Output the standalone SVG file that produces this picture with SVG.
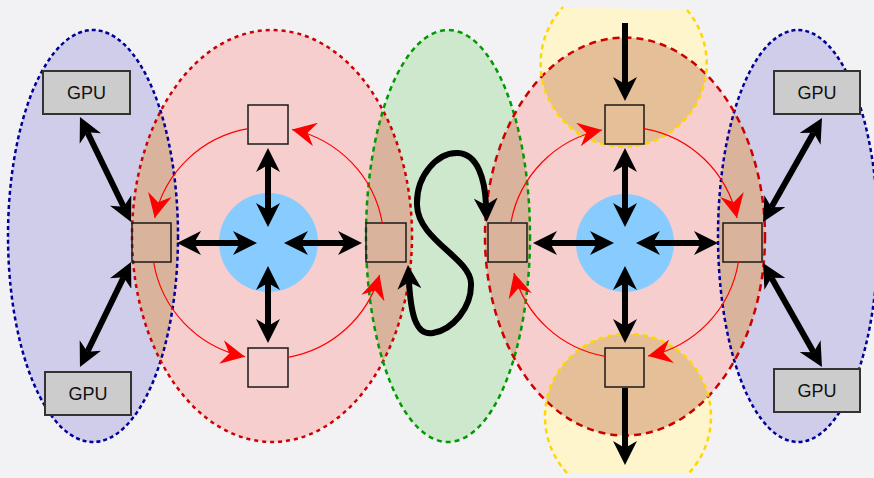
<svg xmlns="http://www.w3.org/2000/svg" width="874" height="478" viewBox="0 0 874 478">
<style>
.sq{fill:none;stroke:#1a1a1a;stroke-width:1.5}
.gpu rect{fill:#cccccc;stroke:#333333;stroke-width:2}
.gpu text{font-family:"Liberation Sans",Arial,sans-serif;font-size:18px;fill:#111111;text-anchor:middle}
.hub{fill:#88ccff}
.blk{fill:none;stroke:#000000;stroke-width:6}
.bi{marker-start:url(#ah);marker-end:url(#ah)}
.one{marker-end:url(#ah)}
.red{fill:none;stroke:#ff0000;stroke-width:1.2;marker-end:url(#rh)}
.lens{fill:#d9b39b}
.lens2{fill:#e5bf97}
.ob{fill:none;stroke:#000099;stroke-width:2.5;stroke-dasharray:4 3}
.or{fill:none;stroke:#cc0000;stroke-width:2.5;stroke-dasharray:4 4}
.or2{fill:none;stroke:#cc0000;stroke-width:2.5;stroke-dasharray:7 5}
.og{fill:none;stroke:#009900;stroke-width:2.5;stroke-dasharray:5 4}
.oy{fill:none;stroke:#ffd700;stroke-width:2.5;stroke-dasharray:5 4}
</style>
<defs>
<marker id="ah" viewBox="0 0 24 24" markerWidth="24" markerHeight="24" refX="7" refY="12" orient="auto-start-reverse" markerUnits="userSpaceOnUse"><path d="M0,0 L24,12 L0,24 L7,12 z" fill="#000000"/></marker>
<marker id="rh" viewBox="0 0 24 24" markerWidth="24" markerHeight="24" refX="24" refY="12" orient="auto" markerUnits="userSpaceOnUse"><path d="M0,0 L24,12 L0,24 L8,12 z" fill="#ff0000"/></marker>
<clipPath id="cRL"><ellipse cx="272" cy="236" rx="140" ry="206"/></clipPath>
<clipPath id="cRR"><ellipse cx="625" cy="236.5" rx="140" ry="199"/></clipPath>
</defs>
<rect x="0" y="0" width="874" height="478" fill="#f2f2f5"/>

<g id="regions">
<g id="pool-left"><ellipse cx="93" cy="236" rx="85" ry="206" fill="#cfcde9"/></g>
<g id="pool-right"><ellipse cx="798" cy="236" rx="80" ry="206" fill="#cfcde9"/></g>
<g id="ring-left"><ellipse cx="272" cy="236" rx="140" ry="206" fill="#f6cece"/></g>
<g id="bridge"><ellipse cx="448" cy="236" rx="82" ry="206" fill="#cde8cc"/></g>
<g id="ring-right"><ellipse cx="625" cy="236.5" rx="140" ry="199" fill="#f6cece"/></g>
<g id="in-top"><path d="M563,7 L687,10 A83,83 0 1 1 563,7 Z" fill="#fff5cc"/></g>
<g id="out-bottom"><path d="M567,473 A83,83 0 1 1 689,473 Z" fill="#fff5cc"/></g>
</g>

<g id="overlaps">
<ellipse class="lens" cx="93" cy="236" rx="85" ry="206" clip-path="url(#cRL)"/>
<ellipse class="lens" cx="448" cy="236" rx="82" ry="206" clip-path="url(#cRL)"/>
<ellipse class="lens" cx="448" cy="236" rx="82" ry="206" clip-path="url(#cRR)"/>
<ellipse class="lens" cx="798" cy="236" rx="80" ry="206" clip-path="url(#cRR)"/>
<path class="lens2" d="M563,7 L687,10 A83,83 0 1 1 563,7 Z" clip-path="url(#cRR)"/>
<path class="lens2" d="M567,473 A83,83 0 1 1 689,473 Z" clip-path="url(#cRR)"/>
</g>

<g id="outlines">
<ellipse class="ob" cx="93" cy="236" rx="85" ry="206"/>
<ellipse class="ob" cx="798" cy="236" rx="80" ry="206"/>
<ellipse class="or" cx="272" cy="236" rx="140" ry="206"/>
<ellipse class="og" cx="448" cy="236" rx="82" ry="206"/>
<ellipse class="or2" cx="625" cy="236.5" rx="140" ry="199"/>
<path class="oy" d="M687,10 A83,83 0 1 1 563,7"/>
<path class="oy" d="M567,473 A83,83 0 1 1 689,473"/>
</g>

<g id="hub-left"><circle class="hub" cx="268.5" cy="242.5" r="49.5"/></g>
<g id="hub-right"><circle class="hub" cx="625" cy="243" r="49"/></g>

<g id="sq-l-top"><rect class="sq" x="248" y="105" width="40" height="39"/></g>
<g id="sq-l-bottom"><rect class="sq" x="248" y="348" width="40" height="39"/></g>
<g id="sq-l-left"><rect class="sq" x="132" y="223" width="39" height="39"/></g>
<g id="sq-l-right"><rect class="sq" x="366" y="223" width="40" height="39"/></g>
<g id="sq-r-top"><rect class="sq" x="605" y="105" width="39" height="39"/></g>
<g id="sq-r-bottom"><rect class="sq" x="605" y="348" width="39" height="39"/></g>
<g id="sq-r-left"><rect class="sq" x="488" y="223" width="39" height="39"/></g>
<g id="sq-r-right"><rect class="sq" x="723" y="223" width="39" height="39"/></g>

<g id="gpu-tl" class="gpu"><rect x="43" y="71" width="87" height="43"/><text x="86.5" y="99">GPU</text></g>
<g id="gpu-bl" class="gpu"><rect x="45" y="372" width="86" height="43"/><text x="88" y="400">GPU</text></g>
<g id="gpu-tr" class="gpu"><rect x="774" y="71" width="86" height="43"/><text x="817" y="99">GPU</text></g>
<g id="gpu-br" class="gpu"><rect x="774" y="369" width="86" height="43"/><text x="817" y="397">GPU</text></g>

<g id="connectors">
<path class="red" d="M248,128.7 A116,116 0 0 0 154.7,218"/>
<path class="red" d="M153.6,262 A116,116 0 0 0 245,356.7"/>
<path class="red" d="M288,357.3 A116,116 0 0 0 379.5,275"/>
<path class="red" d="M382.3,223 A116,116 0 0 0 292,129.5"/>
<path class="red" d="M644,128.6 A115,115 0 0 1 737,218"/>
<path class="red" d="M738.4,262 A115,115 0 0 1 648,356"/>
<path class="red" d="M605,356.3 A115,115 0 0 1 514,273"/>
<path class="red" d="M511,222 A115,115 0 0 1 602,130"/>

<path class="blk bi" d="M194,243 H240"/>
<path class="blk bi" d="M301,243 H345"/>
<path class="blk bi" d="M268,165 V210"/>
<path class="blk bi" d="M268,283 V326"/>
<path class="blk bi" d="M550,243 H597"/>
<path class="blk bi" d="M653,243 H701"/>
<path class="blk bi" d="M625,165 V210"/>
<path class="blk bi" d="M625,283 V326"/>
<path class="blk bi" d="M87.4,132.3 L123.6,206.7"/>
<path class="blk bi" d="M123.6,277.3 L87.4,351.7"/>
<path class="blk bi" d="M813.6,132.8 L771.4,207.2"/>
<path class="blk bi" d="M771.4,277.8 L813.6,352.2"/>
<path class="blk one" d="M625,23 V84"/>
<path class="blk one" d="M625,388 V448"/>
<path class="blk bi" d="M409,282 C411,315 416,336 433,333 C452,330 472,308 471,283 C470,258 418,240 417,205 C416,175 438,152 458,153 C478,154 485,180 486,205"/>
</g>
</svg>
